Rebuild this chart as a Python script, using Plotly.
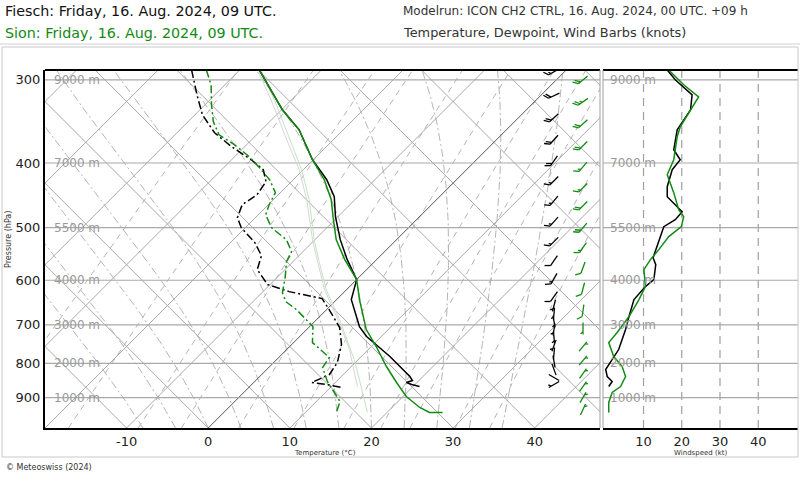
import numpy as np
import plotly.graph_objects as go

# ---------------- data ----------------
# Fiesch (black) temperature profile
fiesch_T_p = [290.0, 332.8, 356.6, 395.5, 423.8, 449.4, 481.6, 521.4, 558.7, 598.6,
              641.5, 704.2, 728.9, 781.0, 836.9, 848.5, 854.4, 860.3, 866.3]
fiesch_T = [-37.6, -29.9, -25.4, -20.1, -15.9, -12.9, -10.3, -6.9, -3.6, 0.0,
            1.8, 6.1, 8.2, 13.5, 18.4, 19.2, 18.7, 19.6, 20.8]
# Fiesch dewpoint
fiesch_Td_p = [290.0, 316.0, 338.5, 360.3, 378.1, 395.5, 409.4, 426.7, 446.3, 462.0,
               483.2, 500.2, 526.8, 551.0, 578.3, 609.0, 624.0, 639.2, 664.0, 706.6,
               749.3, 797.4, 831.2, 854.4, 860.3, 869.3]
fiesch_Td = [-45.9, -42.2, -39.1, -35.4, -31.6, -27.6, -24.9, -23.1, -22.6, -23.2,
             -22.2, -20.5, -17.0, -14.6, -13.4, -10.3, -6.8, -1.9, 0.3, 3.8,
             6.1, 7.8, 8.3, 7.1, 9.2, 11.4]
# Sion (green) temperature profile
sion_T_p = [290.0, 332.8, 356.6, 395.5, 423.8, 454.1, 481.6, 521.4, 558.7, 598.6,
            641.5, 711.5, 754.5, 808.5, 854.4, 896.7, 931.5, 947.7, 947.7]
sion_T = [-37.6, -29.9, -25.4, -20.1, -16.2, -12.9, -10.6, -7.4, -3.9, 0.0,
          2.8, 7.3, 10.6, 14.3, 17.5, 20.4, 23.4, 25.2, 26.8]
# Sion dewpoint
sion_Td_p = [290.0, 305.2, 327.1, 346.8, 362.8, 375.5, 391.4, 406.6, 423.8, 443.2,
             462.0, 478.2, 500.2, 521.4, 543.4, 562.5, 594.5, 626.1, 645.9, 664.0,
             704.2, 744.2, 783.7, 811.3, 851.5, 884.4, 912.4, 947.7]
sion_Td = [-44.1, -41.7, -39.2, -36.9, -34.6, -31.5, -28.2, -25.6, -22.9, -20.6,
           -19.9, -19.1, -16.8, -13.5, -11.4, -10.8, -9.0, -7.5, -6.0, -3.7,
           0.4, 2.3, 6.2, 6.6, 8.9, 11.1, 12.9, 13.8]
# pale parcel curves
fiesch_parcel_p = [291.8, 324.8, 369.1, 409.4, 454.1, 521.4, 562.5, 619.7, 687.3, 762.4, 831.2, 866.3]
fiesch_parcel_T = [-37.5, -32.0, -25.7, -20.5, -15.9, -10.3, -7.0, -2.7, 2.6, 7.7, 11.4, 13.2]
sion_parcel_p = [291.8, 324.8, 369.1, 409.4, 454.1, 521.4, 562.5, 619.7, 687.3, 789.2, 875.3, 947.7]
sion_parcel_T = [-37.1, -31.6, -25.3, -20.2, -15.6, -10.1, -6.8, -2.5, 2.8, 9.5, 14.1, 17.6]

# wind speed profiles (kt)
fiesch_ws_p = [290.0, 300.0, 316.0, 332.8, 356.6, 382.1, 395.5, 409.4, 434.2, 449.4,
               473.3, 486.6, 498.5, 534.1, 555.0, 568.4, 598.6, 613.3, 641.5, 680.2,
               711.5, 762.4, 797.4, 816.9, 836.9, 851.5, 866.3]
fiesch_ws = [16.2, 18.3, 22.7, 22.3, 18.8, 17.9, 19.6, 17.5, 16.2, 16.2,
             20.1, 18.3, 15.3, 13.6, 12.5, 13.2, 12.7, 10.5, 7.5, 6.2,
             5.3, 3.5, 1.4, 0.1, 0.5, 1.8, 0.9]
sion_ws_p = [290.0, 305.2, 318.2, 332.8, 352.9, 365.3, 395.5, 416.5, 443.2, 470.1,
             481.6, 498.5, 516.0, 539.7, 558.7, 578.3, 613.3, 641.5, 680.2, 718.9,
             744.2, 781.0, 808.5, 836.9, 866.3, 884.4, 915.5, 947.7]
sion_ws = [16.6, 20.5, 24.4, 22.3, 19.6, 18.8, 17.9, 16.2, 17.9, 19.2,
           20.5, 19.9, 16.6, 14.0, 11.8, 10.1, 10.5, 8.8, 6.2, 3.1,
           0.9, 2.2, 4.4, 5.3, 4.0, 1.8, 0.9, 0.9]

# wind barbs: pressure (hPa), direction (deg), speed (kt)
fiesch_barb_p = [291.8, 317.0, 342.1, 369.1, 396.9, 425.3, 455.7, 489.9, 525.0, 560.6,
                 596.6, 634.8, 654.9, 673.2, 692.1, 711.5, 731.4, 751.9, 773.0, 794.6,
                 816.9, 839.8, 860.3]
fiesch_barb_dir = [240, 245, 228, 222, 215, 225, 220, 222, 225, 215,
                   210, 215, 195, 185, 170, 190, 175, 200, 185, 170,
                   160, 300, 240]
fiesch_barb_spd = [16, 22, 21, 18, 19, 17, 17, 17, 14, 12,
                   13, 8, 7, 6, 6, 5, 4, 4, 2, 2,
                   1, 2, 3]
sion_barb_p = [300.0, 323.7, 349.3, 376.8, 405.2, 435.7, 463.6, 500.2, 536.0, 574.4,
               617.5, 666.3, 709.0, 754.5, 791.9, 828.3, 866.3, 899.8, 937.9]
sion_barb_dir = [230, 235, 228, 225, 220, 225, 225, 220, 215, 200,
                 195, 188, 180, 40, 40, 35, 35, 30, 25]
sion_barb_spd = [20, 24, 20, 18, 17, 17, 19, 20, 14, 10,
                 10, 8, 6, 5, 5, 5, 5, 4, 3]

p_levels = [300, 400, 500, 600, 700, 800, 900]
height_labels = ["9000 m", "7000 m", "5500 m", "4000 m", "3000 m", "2000 m", "1000 m"]
t_ticks = [-10, 0, 10, 20, 30, 40]
ws_ticks = [10, 20, 30, 40]
mixing_ratios = [0.4, 1, 2, 3, 5, 8, 12, 16, 20, 28, 36]
moist_thetaw = [-8, -4, 0, 4, 8, 12, 16, 20, 24, 28, 32, 36]

# ---------------- geometry ----------------
W, H = 800, 480
MAIN_L, MAIN_R = 45, 600
WIND_L, WIND_R = 603, 798
TOP, BOT = 70, 428
T_MIN, T_MAX = -20.0, 48.0
P_BOT, P_TOP = 1000.0, 290.0
KT_MIN, KT_MAX = -0.6, 50.4

PXX = (MAIN_R - MAIN_L) / (T_MAX - T_MIN)
PXY = (BOT - TOP) / np.log(P_BOT / P_TOP)
SKEW = PXY / PXX

BLACK = "#000000"
GREEN = "#138a13"
GRID = "#a9a9a9"


def skx(T, p):
    return np.asarray(T, float) + SKEW * np.log(P_BOT / np.asarray(p, float))


def ypx(p):
    return TOP + PXY * np.log(p / P_TOP)


def py(ypix):
    return 1 - ypix / H


def px(xpix):
    return xpix / W


fig = go.Figure()


def add_lines(segs, color, width=1, dash="solid", xa="x", ya="y", opacity=1.0):
    xs, ys = [], []
    for sx, sy in segs:
        xs += list(sx) + [None]
        ys += list(sy) + [None]
    fig.add_trace(go.Scatter(x=xs, y=ys, mode="lines", xaxis=xa, yaxis=ya,
                             line=dict(color=color, width=width, dash=dash),
                             opacity=opacity, hoverinfo="skip", showlegend=False))


pp = np.array([P_BOT, P_TOP])
pgrid = np.geomspace(P_BOT, P_TOP, 120)

# mixing ratio lines (dashed)
segs = []
for w in mixing_ratios:
    e = w * pgrid / (622.0 + w)
    le = np.log(e / 6.112)
    T = 243.5 * le / (17.67 - le)
    segs.append((skx(T, pgrid), pgrid))
add_lines(segs, "#b5b5b5", 1, "6px,5px")

# moist adiabats (dash-dot)
Rd, cp, Lv, eps = 287.04, 1005.7, 2.501e6, 0.622
segs = []
for tw in moist_thetaw:
    T = tw + 273.15
    Ts = []
    for i, p in enumerate(pgrid):
        Ts.append(T - 273.15)
        if i < len(pgrid) - 1:
            Tc = T - 273.15
            es = 6.112 * np.exp(17.67 * Tc / (Tc + 243.5))
            rs = eps * es / (p - es)
            dTdp = (Rd * T + Lv * rs) / (p * (cp + Lv * Lv * rs * eps / (Rd * T * T)))
            T += dTdp * (pgrid[i + 1] - p)
    segs.append((skx(Ts, pgrid), pgrid))
add_lines(segs, "#b5b5b5", 1, "8px,3px,2px,3px")

# isotherms "/" and "\" lines
segs = []
for T0 in range(-120, 50, 10):
    if T0 == 0:
        continue
    segs.append((skx([T0, T0], pp), pp))
add_lines(segs, GRID, 1)
segs = []
for T0 in range(-20, 160, 10):
    segs.append((T0 - SKEW * np.log(P_BOT / pp), pp))
add_lines(segs, GRID, 1)
add_lines([(skx([0, 0], pp), pp)], "#505050", 1)

# isobars both panels
add_lines([([T_MIN, T_MAX], [p, p]) for p in p_levels], GRID, 1.2)
add_lines([([KT_MIN, KT_MAX], [p, p]) for p in p_levels], GRID, 1.2, xa="x2", ya="y2")
# wind speed dashed verticals
add_lines([([v, v], [P_BOT, P_TOP]) for v in ws_ticks], "#a0a0a0", 1.2, "8px,6px", xa="x2", ya="y2")

# parcel curves
add_lines([(skx(fiesch_parcel_T, fiesch_parcel_p), fiesch_parcel_p)], "#d6d6d6", 1)
add_lines([(skx(sion_parcel_T, sion_parcel_p), sion_parcel_p)], "#c4e2c4", 1)

# dewpoints
add_lines([(skx(fiesch_Td, fiesch_Td_p), fiesch_Td_p)], BLACK, 1.5, "8px,3px,2px,3px")
add_lines([(skx(sion_Td, sion_Td_p), sion_Td_p)], GREEN, 1.5, "8px,3px,2px,3px")
# temperatures
add_lines([(skx(fiesch_T, fiesch_T_p), fiesch_T_p)], BLACK, 1.5)
add_lines([(skx(sion_T, sion_T_p), sion_T_p)], GREEN, 1.5)

# wind speed profiles
add_lines([(fiesch_ws, fiesch_ws_p)], BLACK, 1.5, xa="x2", ya="y2")
add_lines([(sion_ws, sion_ws_p)], GREEN, 1.5, xa="x2", ya="y2")


# wind barbs (pixel-sized glyphs converted through the axis scales)
def barb_segments(d, s, L=12.0, flen=6.0, fsp=2.6, ang=55.0):
    segs = []
    a = np.radians(ang)
    r = np.radians(d)
    ux, uy = np.sin(r), -np.cos(r)
    fx = ux * np.cos(a) - uy * np.sin(a)
    fy = ux * np.sin(a) + uy * np.cos(a)
    segs.append([(-L / 2 * ux, -L / 2 * uy), (L / 2 * ux, L / 2 * uy)])
    n5 = int(round(s / 5.0))
    full, half = n5 // 2, n5 % 2
    pos = L / 2
    for _ in range(full):
        bx, by = pos * ux, pos * uy
        segs.append([(bx, by), (bx + flen * fx, by + flen * fy)])
        pos -= fsp
    if half:
        if full == 0:
            pos -= fsp
        bx, by = pos * ux, pos * uy
        segs.append([(bx, by), (bx + flen / 2 * fx, by + flen / 2 * fy)])
    return segs


def add_barbs(col_px, plist, dirs, spds, color):
    xs, ys = [], []
    x_c = T_MIN + (col_px - MAIN_L) / PXX
    for p, d, s in zip(plist, dirs, spds):
        for seg in barb_segments(d, s):
            for dx, dy in seg:
                xs.append(x_c + dx / PXX)
                ys.append(p * np.exp(dy / PXY))
            xs.append(None)
            ys.append(None)
    fig.add_trace(go.Scatter(x=xs, y=ys, mode="lines", line=dict(color=color, width=1.3),
                             hoverinfo="skip", showlegend=False))


add_barbs(554, fiesch_barb_p, fiesch_barb_dir, fiesch_barb_spd, BLACK)
add_barbs(583, sion_barb_p, sion_barb_dir, sion_barb_spd, GREEN)

# ---------------- layout ----------------
yrange = [np.log10(P_BOT), np.log10(P_TOP)]
fig.update_layout(
    width=W, height=H, margin=dict(l=0, r=0, t=0, b=0),
    paper_bgcolor="white", plot_bgcolor="white",
    font=dict(family="DejaVu Sans", color="#222222"),
    xaxis=dict(domain=[px(MAIN_L), px(MAIN_R)], range=[T_MIN, T_MAX], showgrid=False,
               zeroline=False, tickvals=t_ticks, ticktext=[str(t) for t in t_ticks],
               tickfont=dict(size=13, color="#222"), showline=True, linecolor="black",
               linewidth=2, ticks="", anchor="y"),
    yaxis=dict(domain=[py(BOT), py(TOP)], type="log", range=yrange, showgrid=False,
               zeroline=False, tickvals=p_levels, ticktext=[str(p) for p in p_levels],
               tickfont=dict(size=13, color="#222"), showline=True, linecolor="black",
               linewidth=2, ticks="", anchor="x"),
    xaxis2=dict(domain=[px(WIND_L), px(WIND_R)], range=[KT_MIN, KT_MAX], showgrid=False,
                zeroline=False, tickvals=ws_ticks, ticktext=[str(v) for v in ws_ticks],
                tickfont=dict(size=13, color="#222"), showline=True, linecolor="black",
                linewidth=2, ticks="", anchor="y2"),
    yaxis2=dict(domain=[py(BOT), py(TOP)], type="log", range=yrange, showgrid=False,
                zeroline=False, showticklabels=False, anchor="x2"),
)

shapes = []
shapes.append(dict(type="line", xref="paper", yref="paper", x0=px(MAIN_L), x1=px(MAIN_R),
                   y0=py(TOP), y1=py(TOP), line=dict(color="black", width=2)))
shapes.append(dict(type="line", xref="paper", yref="paper", x0=px(WIND_L), x1=px(WIND_R),
                   y0=py(TOP), y1=py(TOP), line=dict(color="black", width=2)))
for xx in (MAIN_R, WIND_L):
    shapes.append(dict(type="line", xref="paper", yref="paper", x0=px(xx), x1=px(xx),
                       y0=py(BOT), y1=py(TOP), line=dict(color="#a0a0a0", width=1)))
shapes.append(dict(type="rect", xref="paper", yref="paper", x0=px(2), x1=px(798),
                   y0=py(457), y1=py(47), line=dict(color="#c8c8c8", width=1)))
shapes.append(dict(type="line", xref="paper", yref="paper", x0=0, x1=1,
                   y0=py(44), y1=py(44), line=dict(color="#d0d0d0", width=1)))
fig.update_layout(shapes=shapes)

ann = []
ann.append(dict(text="Fiesch: Friday, 16. Aug. 2024, 09 UTC.", x=px(3), y=py(11),
                xanchor="left", yanchor="middle", font=dict(size=14.3, color="#111")))
ann.append(dict(text="Sion: Friday, 16. Aug. 2024, 09 UTC.", x=px(3), y=py(33),
                xanchor="left", yanchor="middle", font=dict(size=14.3, color=GREEN)))
ann.append(dict(text="Modelrun: ICON CH2 CTRL, 16. Aug. 2024, 00 UTC. +09 h", x=px(401), y=py(11),
                xanchor="left", yanchor="middle", font=dict(size=12, color="#333")))
ann.append(dict(text="Temperature, Dewpoint, Wind Barbs (knots)", x=px(401), y=py(33),
                xanchor="left", yanchor="middle", font=dict(size=12.9, color="#333")))
ann.append(dict(text="© Meteoswiss (2024)", x=px(4), y=py(467), xanchor="left",
                yanchor="middle", font=dict(size=8, color="#333")))
ann.append(dict(text="Pressure (hPa)", x=px(8), y=py(240), textangle=-90, xanchor="center",
                yanchor="middle", font=dict(size=8, color="#333")))
ann.append(dict(text="Temperature (°C)", x=px(325), y=py(453), xanchor="center",
                yanchor="middle", font=dict(size=7, color="#333")))
ann.append(dict(text="Windspeed (kt)", x=px(700), y=py(453), xanchor="center",
                yanchor="middle", font=dict(size=7, color="#333")))
for p, lab in zip(p_levels, height_labels):
    for x0 in (MAIN_L + 7, WIND_L + 5):
        ann.append(dict(text=lab, x=px(x0), y=py(ypx(p)), xanchor="left", yanchor="middle",
                        font=dict(size=12, color="#9a9a9a")))
for a in ann:
    a.update(xref="paper", yref="paper", showarrow=False)
fig.update_layout(annotations=ann)

fig.write_html("out.html")
